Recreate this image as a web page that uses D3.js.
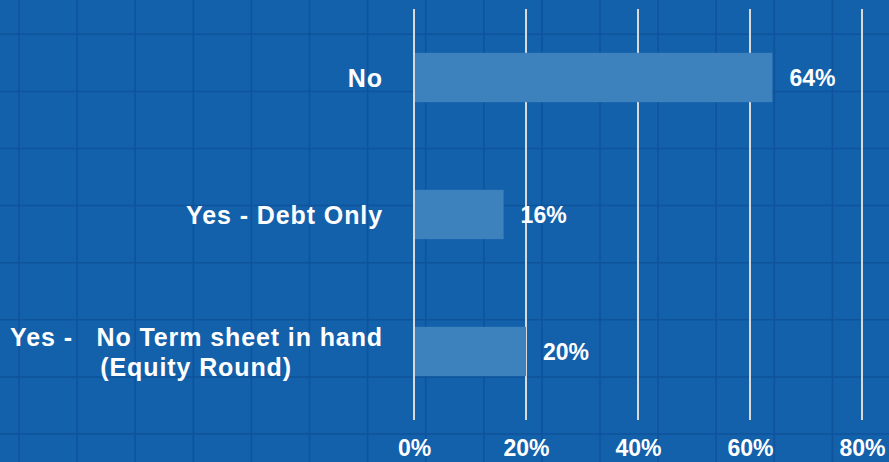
<!DOCTYPE html>
<html>
<head>
<meta charset="utf-8">
<script src="https://cdn.jsdelivr.net/npm/d3@7"></script>
<style>
  html, body { margin: 0; padding: 0; background: #1360ab; }
  text { font-family: 'Liberation Sans', Arial, sans-serif; font-weight: bold; fill: #fff; }
</style>
</head>
<body>
<div class="result"></div>
<script>
const categories = ['No', 'Yes - Debt Only', 'Yes - No Term sheet in hand (Equity Round)']
const labelLines = [
  ['No'],
  ['Yes - Debt Only'],
  ['Yes -   No Term sheet in hand', '(Equity Round)']
]
const values = [0.64, 0.16, 0.20]
const ticks = [0, 0.2, 0.4, 0.6, 0.8]

const width = 889
const height = 462

const svg = d3
  .select('.result')
  .append('svg')
  .attr('width', width)
  .attr('height', height)

svg.append('rect').attr('width', width).attr('height', height).attr('fill', '#1360ab')

// faint background squares
const bg = svg.append('g').attr('stroke', '#0f539b').attr('stroke-width', 1.5)
bg.selectAll('line.v')
  .data(d3.range(16))
  .enter()
  .append('line')
  .attr('x1', (i) => 19 + i * 58.1)
  .attr('x2', (i) => 19 + i * 58.1)
  .attr('y1', 0)
  .attr('y2', height)
bg.selectAll('line.h')
  .data(d3.range(9))
  .enter()
  .append('line')
  .attr('y1', (i) => 34.3 + i * 57.1)
  .attr('y2', (i) => 34.3 + i * 57.1)
  .attr('x1', 0)
  .attr('x2', width)

const x = d3.scaleLinear().domain([0, 0.8]).range([414, 862])
const y = d3
  .scaleBand()
  .domain(categories)
  .range([9, 420])
  .paddingInner(0.64)
  .paddingOuter(0.32)

// vertical gridlines
svg.append('g')
  .selectAll('line')
  .data(ticks)
  .enter()
  .append('line')
  .attr('x1', (d) => x(d))
  .attr('x2', (d) => x(d))
  .attr('y1', 9)
  .attr('y2', 420)
  .attr('stroke', '#d9d9d9')
  .attr('stroke-width', 2)

// bars
svg.append('g')
  .selectAll('rect')
  .data(values)
  .enter()
  .append('rect')
  .attr('x', x(0) + 1)
  .attr('y', (d, i) => y(categories[i]))
  .attr('width', (d) => x(d) - x(0) - 1)
  .attr('height', y.bandwidth())
  .attr('fill', '#3d81bd')

// value labels
svg.append('g')
  .selectAll('text')
  .data(values)
  .enter()
  .append('text')
  .attr('x', (d) => x(d) + 17)
  .attr('y', (d, i) => y(categories[i]) + y.bandwidth() / 2)
  .attr('dy', '0.36em')
  .style('font-size', '23px')
  .text((d) => Math.round(d * 100) + '%')

// category labels
const cat = svg.append('g')
  .selectAll('text')
  .data(categories)
  .enter()
  .append('text')
  .attr('text-anchor', 'end')
  .attr('xml:space', 'preserve')
  .style('font-size', '25px')
  .style('letter-spacing', '0.9px')
  .attr('y', (d) => y(d) + y.bandwidth() / 2)
cat.each(function (d, i) {
  const lines = labelLines[i]
  const el = d3.select(this)
  lines.forEach((t, j) => {
    el.append('tspan')
      .attr('x', j === 0 ? 383 : 292)
      .attr('y', y(d) + y.bandwidth() / 2 + (j - (lines.length - 1) / 2) * 30)
      .attr('dy', '0.36em')
      .text(t)
  })
})

// x tick labels
const xAxis = d3.axisBottom(x).tickValues(ticks).tickFormat(d3.format('.0%')).tickSize(0)
const ax = svg.append('g').attr('transform', 'translate(0,440)').call(xAxis)
ax.select('.domain').remove()
ax.selectAll('text')
  .attr('dy', 0)
  .attr('y', 16)
  .attr('fill', '#fff')
  .style('font-size', '23px')
  .style('font-family', "'Liberation Sans', Arial, sans-serif")
  .style('font-weight', 'bold')
</script>
</body>
</html>
